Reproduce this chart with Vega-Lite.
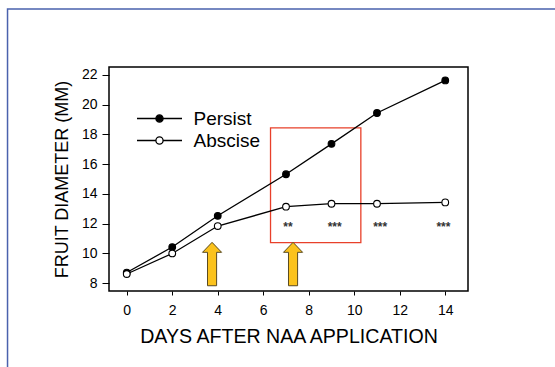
{
  "$schema": "https://vega.github.io/schema/vega-lite/v6.json",
  "width": 359,
  "height": 224,
  "autosize": {"type": "none"},
  "padding": {"left": 109, "top": 67, "right": 87, "bottom": 76},
  "background": "white",
  "config": {
    "font": "Liberation Sans",
    "view": {"stroke": "black", "strokeWidth": 1.5},
    "axis": {"domain": false, "grid": false, "labelColor": "black", "tickColor": "black", "titleColor": "black", "titleFontWeight": "normal", "labelFont": "Liberation Sans", "titleFont": "Liberation Sans", "labelOverlap": false}
  },
  "datasets": {
    "series": [
      {"day": 0, "diameter": 8.72, "group": "Persist"},
      {"day": 2, "diameter": 10.43, "group": "Persist"},
      {"day": 4, "diameter": 12.53, "group": "Persist"},
      {"day": 7, "diameter": 15.32, "group": "Persist"},
      {"day": 9, "diameter": 17.36, "group": "Persist"},
      {"day": 11, "diameter": 19.43, "group": "Persist"},
      {"day": 14, "diameter": 21.62, "group": "Persist"},
      {"day": 0, "diameter": 8.62, "group": "Abscise"},
      {"day": 2, "diameter": 10.0, "group": "Abscise"},
      {"day": 4, "diameter": 11.84, "group": "Abscise"},
      {"day": 7, "diameter": 13.14, "group": "Abscise"},
      {"day": 9, "diameter": 13.34, "group": "Abscise"},
      {"day": 11, "diameter": 13.34, "group": "Abscise"},
      {"day": 14, "diameter": 13.43, "group": "Abscise"}
    ],
    "stars": [
      {"day": 7.09, "diameter": 12.0, "label": "**"},
      {"day": 9.14, "diameter": 12.0, "label": "***"},
      {"day": 11.14, "diameter": 12.0, "label": "***"},
      {"day": 13.92, "diameter": 12.0, "label": "***"}
    ],
    "arrows": [
      {"day": 3.75, "diameter": 9.29},
      {"day": 7.31, "diameter": 9.29}
    ],
    "box": [{"x1": 6.32, "x2": 10.29, "y1": 18.43, "y2": 10.73}],
    "border": [{"x1": -5.24, "x2": 30, "y1": 26.42, "y2": -10}]
  },
  "encoding": {
    "x": {"type": "quantitative", "scale": {"domain": [-0.78, 15], "nice": false, "zero": false},
      "title": "DAYS AFTER NAA APPLICATION",
      "axis": {"values": [0, 2, 4, 6, 8, 10, 12, 14], "tickCount": 8, "tickSize": 4, "labelFontSize": 14, "labelPadding": 8, "titleFontSize": 19.6, "titlePadding": 10}},
    "y": {"type": "quantitative", "scale": {"domain": [7.48, 22.52], "nice": false, "zero": false},
      "title": "FRUIT DIAMETER (MM)",
      "axis": {"values": [8, 10, 12, 14, 16, 18, 20, 22], "tickCount": 8, "tickSize": 7, "labelFontSize": 14, "labelPadding": 5, "titleFontSize": 18, "titlePadding": 10}}
  },
  "layer": [
    {
      "data": {"name": "border"},
      "mark": {"type": "rect", "fill": null, "fillOpacity": 0, "stroke": "#4a62ad", "strokeWidth": 1.5, "clip": false},
      "encoding": {
        "x": {"field": "x1"},
        "x2": {"field": "x2"},
        "y": {"field": "y1"},
        "y2": {"field": "y2"}
      }
    },
    {
      "data": {"name": "box"},
      "mark": {"type": "rect", "fillOpacity": 0, "stroke": "#e8402a", "strokeWidth": 1.3},
      "encoding": {
        "x": {"field": "x1"},
        "x2": {"field": "x2"},
        "y": {"field": "y1"},
        "y2": {"field": "y2"}
      }
    },
    {
      "data": {"name": "series"},
      "mark": {"type": "line", "stroke": "black", "strokeWidth": 1.3},
      "encoding": {
        "x": {"field": "day"},
        "y": {"field": "diameter"},
        "detail": {"field": "group"}
      }
    },
    {
      "data": {"name": "series"},
      "mark": {"type": "point", "filled": false, "stroke": "black", "strokeWidth": 1.1, "size": 45, "shape": "circle", "opacity": 1},
      "encoding": {
        "x": {"field": "day"},
        "y": {"field": "diameter"},
        "fill": {"field": "group", "type": "nominal", "scale": {"domain": ["Persist", "Abscise"], "range": ["black", "white"]},
          "legend": {"title": null, "orient": "none", "legendX": 41, "legendY": 42, "padding": 0,
            "symbolType": "M-4.5,0H-0.72M0.72,0H4.5M-0.72,0A0.72,0.72,0,1,1,0.72,0A0.72,0.72,0,1,1,-0.72,0Z",
            "symbolSize": 100, "symbolStrokeColor": "black", "symbolStrokeWidth": 1.3, "symbolOpacity": 1,
            "labelFontSize": 19, "labelColor": "black", "labelOffset": 24.5, "rowPadding": 2, "labelFont": "Liberation Sans"}}
      }
    },
    {
      "data": {"name": "stars"},
      "mark": {"type": "text", "fontSize": 12, "fontWeight": "bold", "color": "#333333", "baseline": "middle", "dy": 3},
      "encoding": {
        "x": {"field": "day"},
        "y": {"field": "diameter"},
        "text": {"field": "label"}
      }
    },
    {
      "data": {"name": "arrows"},
      "mark": {"type": "point", "shape": "M0,-1L0.44,-0.54L0.21,-0.54L0.21,1L-0.21,1L-0.21,-0.54L-0.44,-0.54Z", "size": 1884, "filled": true, "fill": "#fbc21c", "stroke": "#5a4a20", "strokeWidth": 1, "opacity": 1},
      "encoding": {
        "x": {"field": "day"},
        "y": {"field": "diameter"}
      }
    }
  ]
}
